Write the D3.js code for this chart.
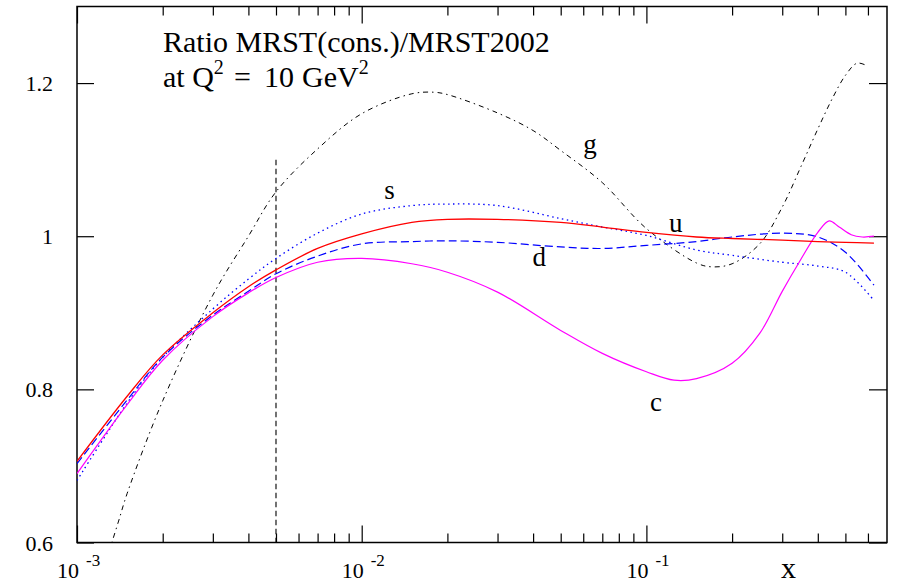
<!DOCTYPE html>
<html>
<head>
<meta charset="utf-8">
<script src="https://cdn.jsdelivr.net/npm/d3@7"></script>
<style>
  body { margin: 0; background: #fff; }
  svg text { font-family: "Liberation Serif", "Times New Roman", serif; fill: #000; }
</style>
</head>
<body>
<div id="chart"></div>
<script>
// plot size and frame
const width = 898, height = 585;
const margin = {top: 6.5, right: 11, bottom: 43, left: 77};

// ratio curves
const xU = [0.001, 0.0015, 0.002, 0.003, 0.004, 0.005, 0.007, 0.01, 0.015, 0.02, 0.03, 0.05, 0.07, 0.1, 0.15, 0.2, 0.3, 0.4, 0.5, 0.63];
const uVals = [0.706, 0.791, 0.845, 0.900, 0.934, 0.956, 0.984, 1.003, 1.018, 1.022, 1.022, 1.018, 1.012, 1.005, 0.999, 0.997, 0.995, 0.993, 0.992, 0.991];
const dVals = [0.703, 0.786, 0.842, 0.897, 0.928, 0.951, 0.974, 0.990, 0.993, 0.994, 0.992, 0.986, 0.984, 0.988, 0.993, 0.999, 1.004, 0.999, 0.979, 0.936];
const sVals = [0.681, 0.782, 0.842, 0.905, 0.944, 0.971, 1.004, 1.029, 1.040, 1.042, 1.040, 1.023, 1.012, 1.001, 0.982, 0.975, 0.966, 0.961, 0.953, 0.916];

const xC = [0.001, 0.0015, 0.002, 0.003, 0.004, 0.005, 0.007, 0.01, 0.015, 0.02, 0.03, 0.05, 0.07, 0.1, 0.125, 0.15, 0.2, 0.25, 0.3, 0.344, 0.4, 0.4385, 0.4755, 0.524, 0.573, 0.63];
const cVals = [0.690, 0.780, 0.838, 0.895, 0.926, 0.946, 0.966, 0.971, 0.964, 0.953, 0.927, 0.877, 0.847, 0.823, 0.812, 0.814, 0.834, 0.873, 0.928, 0.966, 1.005, 1.020, 1.012, 1.002, 0.999, 1.000];

const xG = [0.00125, 0.0014, 0.0015, 0.002, 0.003, 0.004, 0.005, 0.007, 0.01, 0.015, 0.018, 0.02, 0.03, 0.04, 0.05, 0.07, 0.1, 0.15, 0.17, 0.2, 0.25, 0.3, 0.35, 0.4, 0.45, 0.5, 0.55, 0.6];
const gVals = [0.570, 0.628, 0.664, 0.785, 0.923, 1.000, 1.058, 1.114, 1.160, 1.186, 1.188, 1.185, 1.161, 1.138, 1.112, 1.070, 1.010, 0.965, 0.960, 0.964, 0.990, 1.038, 1.092, 1.140, 1.180, 1.210, 1.226, 1.222];

// vertical marker at x = 0.005
const cutX = 0.005;
const cutY = [0.6, 1.1];

// axis ticks
const yTicks = [0.6, 0.8, 1.0, 1.2];
const yTickLabels = ["0.6", "0.8", "1", "1.2"];
const xMajor = [0.001, 0.01, 0.1];
const xMajorExp = ["-3", "-2", "-1"];
const xMinor = [];
[0.001, 0.01, 0.1].forEach(dec => {
  for (let k = 2; k <= 9; k++) if (dec * k <= 0.7) xMinor.push(dec * k);
});

const svg = d3.select("#chart")
  .append("svg")
  .attr("width", width)
  .attr("height", height);

const xScale = d3.scaleLog()
  .domain([0.001, 0.7])
  .range([margin.left, width - margin.right]);

const yScale = d3.scaleLinear()
  .domain([0.6, 1.3])
  .range([height - margin.bottom + 0.5, margin.top]);

const x0 = margin.left, x1 = width - margin.right;
const y0 = yScale(0.6), y1 = yScale(1.3);

// clip
svg.append("clipPath").attr("id", "frame")
  .append("rect").attr("x", x0).attr("y", y1).attr("width", x1 - x0).attr("height", y0 - y1);

// ticks (inward)
function tickAxis(axis, tf, size, values) {
  const g = svg.append("g").attr("transform", tf)
    .call(axis.tickValues(values).tickSize(-size).tickFormat(""));
  g.select(".domain").remove();
  g.selectAll(".tick line").attr("stroke", "#000").attr("stroke-width", 1.2);
  return g;
}
tickAxis(d3.axisBottom(xScale), `translate(0,${y0})`, 17, xMajor);
tickAxis(d3.axisBottom(xScale), `translate(0,${y0})`, 9, xMinor);
tickAxis(d3.axisTop(xScale), `translate(0,${y1})`, 17, xMajor);
tickAxis(d3.axisTop(xScale), `translate(0,${y1})`, 9, xMinor);
tickAxis(d3.axisLeft(yScale), `translate(${x0},0)`, 17, yTicks);
tickAxis(d3.axisRight(yScale), `translate(${x1},0)`, 18, yTicks);

// frame
svg.append("rect")
  .attr("x", x0).attr("y", y1)
  .attr("width", x1 - x0).attr("height", y0 - y1)
  .attr("fill", "none").attr("stroke", "#000").attr("stroke-width", 1.5);

// y labels
svg.selectAll(".ylab")
  .data(yTicks)
  .enter()
  .append("text")
  .attr("class", "ylab")
  .attr("x", 53)
  .attr("y", d => yScale(d) + 8)
  .attr("text-anchor", "end")
  .attr("font-size", "22px")
  .text((d, i) => yTickLabels[i]);

// x labels 10^n
xMajor.forEach((v, i) => {
  const px = xScale(v);
  svg.append("text").attr("x", px - 20).attr("y", 578).attr("font-size", "22px").text("10");
  svg.append("text").attr("x", px + 9).attr("y", 566).attr("font-size", "17px").text(xMajorExp[i]);
});
svg.append("text").attr("x", 781).attr("y", 578).attr("font-size", "30px").text("x");

// title
svg.append("text").attr("x", 163).attr("y", 52).attr("font-size", "30px")
  .text("Ratio MRST(cons.)/MRST2002");
const t2 = svg.append("text").attr("x", 163).attr("y", 87).attr("font-size", "30px");
t2.append("tspan").text("at Q");
t2.append("tspan").attr("dy", -13).attr("font-size", "20px").text("2");
t2.append("tspan").attr("x", 234).attr("dy", 13).text("=");
t2.append("tspan").attr("x", 264).text("10");
t2.append("tspan").attr("x", 302).text("GeV");
t2.append("tspan").attr("dy", -13).attr("font-size", "20px").text("2");

// vertical dashed line
svg.append("line")
  .attr("x1", xScale(cutX)).attr("x2", xScale(cutX))
  .attr("y1", yScale(cutY[1])).attr("y2", yScale(cutY[0]))
  .attr("stroke", "#000").attr("stroke-width", 1.1)
  .attr("stroke-dasharray", "5.5,3.5");

// curves
const line = d3.line()
  .x(d => xScale(d[0]))
  .y(d => yScale(d[1]))
  .curve(d3.curveCatmullRom.alpha(0.5));

const series = [
  {xs: xG, ys: gVals, color: "#000", dash: "5,4,1.5,4", w: 1},
  {xs: xU, ys: sVals, color: "#0000ff", dash: "1.5,3.5", w: 1.3},
  {xs: xU, ys: dVals, color: "#0000ff", dash: "8,4", w: 1.2},
  {xs: xC, ys: cVals, color: "#ff00ff", dash: null, w: 1.2},
  {xs: xU, ys: uVals, color: "#ff0000", dash: null, w: 1.3}
];

svg.append("g").attr("clip-path", "url(#frame)")
  .selectAll("path")
  .data(series)
  .enter()
  .append("path")
  .attr("d", s => line(s.xs.map((x, i) => [x, s.ys[i]])))
  .attr("fill", "none")
  .attr("stroke", s => s.color)
  .attr("stroke-width", s => s.w)
  .attr("stroke-dasharray", s => s.dash);

// curve labels
const labels = [
  {t: "g", x: 0.06, y: 1.109},
  {t: "s", x: 0.012, y: 1.049},
  {t: "u", x: 0.12, y: 1.005},
  {t: "d", x: 0.0398, y: 0.961},
  {t: "c", x: 0.103, y: 0.772}
];
svg.selectAll(".clab")
  .data(labels)
  .enter()
  .append("text")
  .attr("class", "clab")
  .attr("x", d => xScale(d.x))
  .attr("y", d => yScale(d.y))
  .attr("font-size", "27px")
  .text(d => d.t);
</script>
</body>
</html>
